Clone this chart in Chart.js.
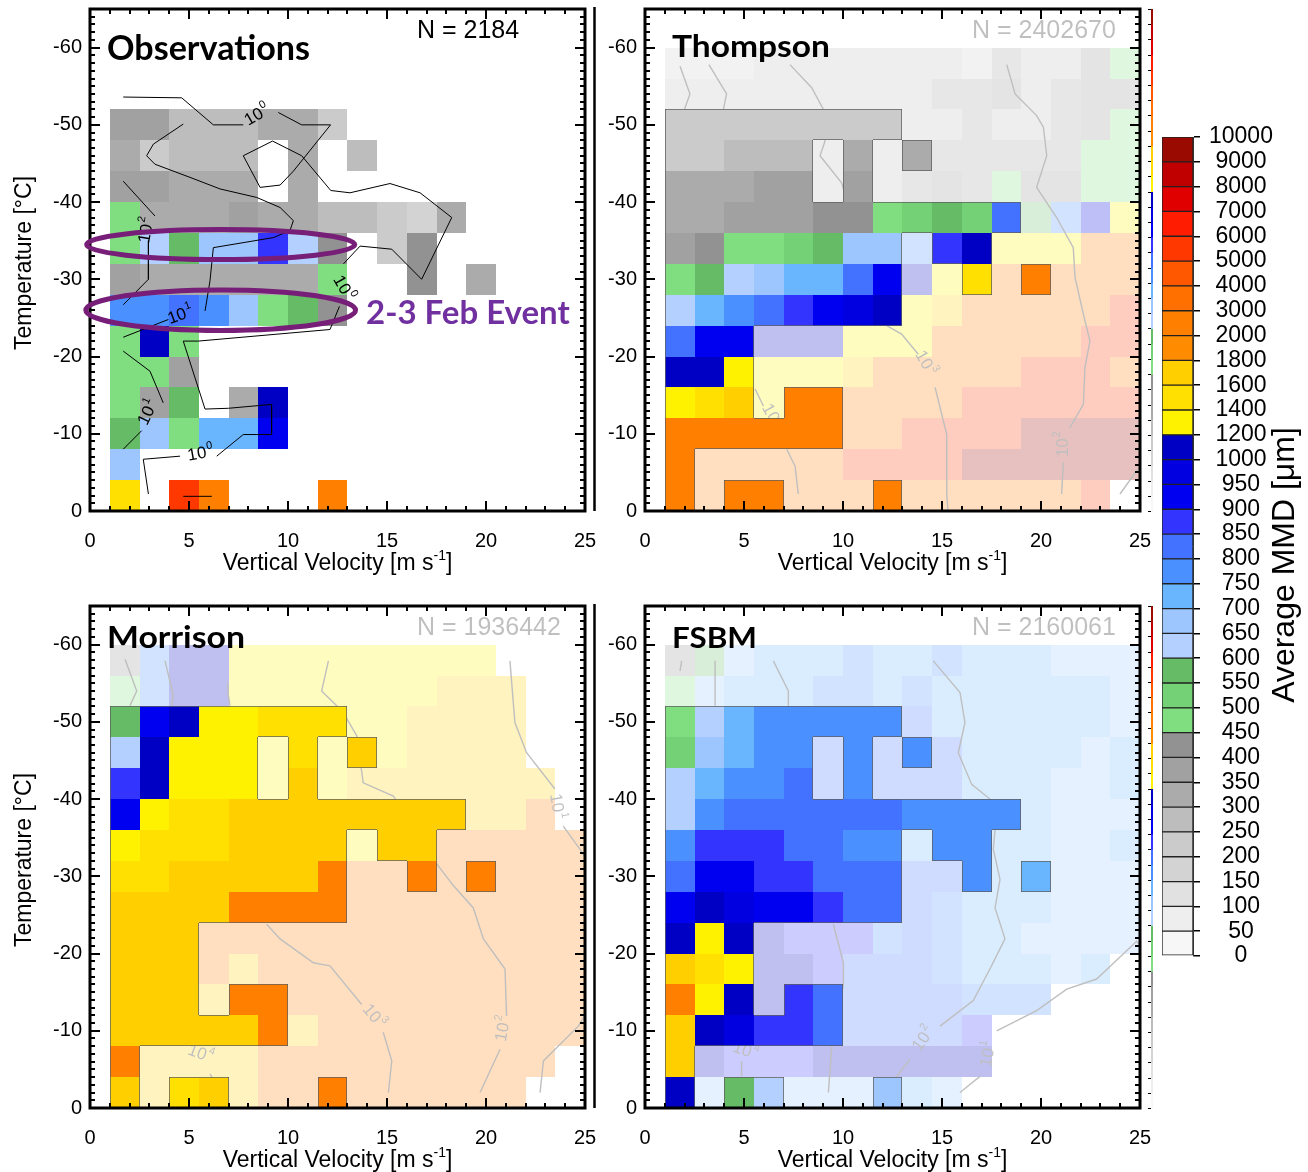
<!DOCTYPE html>
<html>
<head>
<meta charset="utf-8">
<title>Average MMD vs vertical velocity and temperature</title>
<script src="https://cdn.jsdelivr.net/npm/chart.js@4.4.0/dist/chart.umd.min.js"></script>
<style>
  html, body { margin: 0; padding: 0; background: #fff; }
  body { position: relative; width: 1308px; height: 1172px; overflow: hidden; }
  .panel { position: absolute; }
</style>
</head>
<body>
<canvas id="obs" class="panel" width="600" height="590" style="left:0;top:0"></canvas>
<canvas id="thompson" class="panel" width="600" height="590" style="left:555px;top:0"></canvas>
<canvas id="morrison" class="panel" width="600" height="590" style="left:0;top:597px"></canvas>
<canvas id="fsbm" class="panel" width="600" height="590" style="left:555px;top:597px"></canvas>
<canvas id="colorbar" class="panel" width="168" height="900" style="left:1140px;top:100px"></canvas>
<script>
const FONT = "'Liberation Sans', Arial, sans-serif";
const TITLE_FONT = "Lato, 'Open Sans', sans-serif";
Chart.defaults.font.family = FONT;

// ---- bins and axes ----
const velocityEdges = [1, 2.5, 4, 5.5, 7, 8.5, 10, 11.5, 13, 14.5, 16, 17.5, 19, 20.5, 22, 23.5, 25];
const temperatureEdges = [-60, -56, -52, -48, -44, -40, -36, -32, -28, -24, -20, -16, -12, -8, -4, 0];
const xTicks = [0, 5, 10, 15, 20, 25];
const yTicks = [-60, -50, -40, -30, -20, -10, 0];

// ---- MMD colour scale ----
const mmdLevels = [0, 50, 100, 150, 200, 250, 300, 350, 400, 450, 500, 550, 600, 650, 700, 750, 800,
  850, 900, 950, 1000, 1200, 1400, 1600, 1800, 2000, 3000, 4000, 5000, 6000, 7000, 8000, 9000, 10000];
const mmdColors = ['#f7f7f7', '#eeeeee', '#e1e1e1', '#d3d3d3', '#cbcbcb', '#bdbdbd', '#ababab', '#a1a1a1',
  '#929292', '#80dd80', '#75d175', '#66bb66', '#b4d0ff', '#9dc6ff', '#69b6ff', '#4a90ff', '#4272ff',
  '#3434ff', '#0000f0', '#0000e0', '#0000c4', '#fff200', '#ffe000', '#ffcf00', '#ff8c00', '#ff8000',
  '#ff7000', '#ff5800', '#ff3800', '#ff1c00', '#e00000', '#c00000', '#9a0a00'];
// one character per cell = MMD bin index, '.' = no data
const binCodes = '0123456789abcdefghijklmnopqrstuvw';

// ---- Observations ----
const obsMMD = [
  '................',
  '................',
  '77555664........',
  '64555.6.5.......',
  '77666.6.........',
  '966676655436....',
  '9cbddhc8.48.....',
  '76666669..8.6...',
  'ffgfd9b8........',
  '9k9.............',
  '997.............',
  '97b.6k..........',
  'bd9eei..........',
  'd...............',
  'm.sp...p........'
];
const obsContours = [
  [[1.68, -53.6], [4.63, -53.5], [6.23, -50.0], [7.74, -50.0]],
  [[9.51, -51.6], [10.69, -50.0], [12.15, -50.0], [10.27, -44.0], [9.6, -42.2], [8.59, -41.9], [7.74, -46.0],
   [9.22, -47.9], [10.69, -46.0], [12.16, -41.5], [13.13, -41.2], [15.15, -42.4], [16.67, -41.2], [18.27, -38.0],
   [16.75, -30.0], [15.24, -33.9], [13.64, -34.3], [12.8, -32.0]],
  [[12.6, -26.5], [12.12, -23.5], [5.47, -22.0], [4.71, -22.0], [5.81, -13.2], [6.99, -13.3], [9.17, -13.8],
   [9.17, -9.9], [7.74, -9.9], [6.4, -7.1]],
  [[4.55, -7.1], [2.69, -6.7], [2.95, -2.2]],
  [[1.68, -42.7], [3.28, -38.2]],
  [[2.95, -35.0], [2.95, -30.0], [1.68, -26.7]],
  [[4.71, -50.1], [3.2, -47.5], [2.86, -46.0], [3.28, -44.9], [5.05, -43.2], [6.57, -41.7], [8.42, -40.6],
   [9.6, -39.3], [10.27, -37.6], [10.1, -36.3], [9.26, -35.4], [6.23, -34.1], [6.06, -29.8], [5.81, -25.9]],
  [[3.96, -24.8], [1.68, -22.5]],
  [[1.68, -20.7], [3.03, -18.1], [3.7, -14.0]],
  [[2.61, -10.4], [1.68, -8.0]],
  [[4.71, -1.9], [6.15, -1.9]]
];
// [velocity, temperature, angle, exponent]
const obsContourLabels = [[8.42, -51.2, -30, '0'], [2.86, -36.3, -80, '2'], [4.55, -25.3, -20, '1'],
  [2.93, -12.7, -65, '1'], [5.56, -7.4, -10, '0'], [12.78, -28.9, 60, '0']];
// [centre velocity, centre temperature, half width, half height]
const febEllipses = [[6.6, -34.5, 6.77, 1.94], [6.6, -26.0, 6.81, 2.63]];

// ---- Thompson ----
const thompsonMMD = [
  '4445555555475589',
  '5555555557785788',
  '4444444455755789',
  '4455556567777799',
  '6667757578798899',
  '66777889abagbfjl',
  '7899abddfhklllpp',
  '9bcdeegiklmppppp',
  'cefghijklnppppps',
  'giikkklllpppppss',
  'kkllllnpppppsssp',
  'lmnlppppppssssss',
  'ppppppppsssswwww',
  'ppppppsssswwwwww',
  'pppppppppppppps.'
];
// '#' = well sampled, '+' = sparse
const thompsonSampled = [
  '++++++++++++++++',
  '++++++++++++++++',
  '########++++++++',
  '#####+#+#+++++++',
  '#####+#+++++++++',
  '############++++',
  '########+##+++++',
  '########++#+#+++',
  '########++++++++',
  '###+++++++++++++',
  '###+++++++++++++',
  '###+##++++++++++',
  '######++++++++++',
  '#+++++++++++++++',
  '#+##+++#+++++++.'
];
const thompsonContours = [
  [[1.77, -57.6], [2.27, -54.0], [1.99, -52.0]],
  [[3.23, -57.8], [4.12, -54.0], [3.96, -52.0]],
  [[7.32, -57.8], [8.42, -54.8], [9.01, -52.0], [9.09, -47.9], [8.84, -46.0], [9.93, -42.5], [11.0, -33.0],
   [12.2, -24.0], [12.96, -22.9], [13.8, -20.3]],
  [[14.65, -16.0], [15.24, -9.9], [15.24, -2.2], [15.3, 0]],
  [[18.27, -57.8], [18.69, -54.0], [19.78, -51.2], [20.12, -49.7], [20.29, -46.0], [19.78, -41.9], [20.79, -38.0],
   [21.63, -34.1], [21.72, -30.2], [22.14, -25.5], [22.47, -22.0], [22.22, -18.6], [22.14, -13.8], [21.46, -10.8]],
  [[21.13, -6.3], [21.04, -2.2]],
  [[5.56, -15.8], [5.98, -13.6]],
  [[7.16, -8.0], [7.58, -5.8], [7.74, -2.2]],
  [[23.99, -2.2], [24.83, -5.2], [25, -5.6]]
];
const thompsonContourLabels = [[14.14, -19.2, 60, '3'], [21.13, -8.6, -90, '2'], [6.4, -12.3, 60, '3']];

// ---- Morrison ----
const morrisonMMD = [
  '8fkklllllllll...',
  '9fkklllllllnnn..',
  'bikllmmmllnnnn..',
  'ckllllmlnlnnnn..',
  'hkllllnlnnnnnnn.',
  'ilmmnnnnnnnnnnp.',
  'lmmmnnnnlnnppppp',
  'mmnnnnnppppppppp',
  'nnnnpppppppppppp',
  'nnnppppppppppppp',
  'nnnpnppppppppppp',
  'nnnnpppppppppppp',
  'nnnnnpnppppppppp',
  'pnnnnpppppppppp.',
  'nnmnnppppppppp..'
];
const morrisonSampled = [
  '+++++++++++++...',
  '++++++++++++++..',
  '########++++++..',
  '#####+#+#+++++..',
  '#####+#++++++++.',
  '############+++.',
  '########+##+++++',
  '########++#+#+++',
  '########++++++++',
  '###+++++++++++++',
  '###+++++++++++++',
  '###+##++++++++++',
  '######++++++++++',
  '#++++++++++++++.',
  '#+##+++#++++++..'
];
const morrisonContours = [
  [[1.77, -58.1], [2.36, -54.0], [2.02, -52.1]],
  [[3.79, -57.9], [4.21, -53.4], [4.13, -52.1]],
  [[6.95, -55.0], [6.99, -53.4], [7.07, -52.1]],
  [[12.04, -57.9], [11.7, -54.0], [12.46, -52.1], [12.88, -50.8], [13.47, -48.2], [13.8, -42.1], [15.32, -40.4],
   [17.34, -32.2], [18.35, -28.8], [19.36, -25.9], [19.87, -21.9], [20.96, -18.0], [21.04, -11.9]],
  [[20.71, -7.6], [19.7, -2.0]],
  [[8.92, -23.8], [9.6, -21.9], [11.28, -18.8], [12.12, -18.4], [13.72, -13.4]],
  [[14.81, -9.8], [15.24, -6.1], [15.07, -2.0]],
  [[6.06, -4.4], [6.23, -3.7]],
  [[21.21, -57.9], [21.46, -49.9], [22.05, -46.0], [23.48, -41.3]],
  [[23.9, -36.5], [24.75, -33.5], [25, -32.5]],
  [[25, -12.0], [24.66, -10.6], [22.9, -6.1], [22.73, -2.0]]
];
const morrisonContourLabels = [[14.31, -11.9, 50, '3'], [20.88, -10.2, -80, '2'], [23.57, -39.1, 80, '1'],
  [5.56, -7.0, 20, '4']];

// ---- FSBM ----
const fsbmMMD = [
  '8bdeeefeefeeeddd',
  '9deeeffefeeeeeed',
  '9cefffffgeeeeeed',
  'adeffgfgfgeeeede',
  'ceffggfgggeeedde',
  'cfggggggffffeddd',
  'fhhhggffeffeedde',
  'giihhgggggfeeddd',
  'ikjiihgggfeeeddd',
  'klkkhhhfgfeedddd',
  'nmlkkhgggfeeede.',
  'plkkhgggggfff...',
  'nkjhhgggggh.....',
  'nkhhhkkkkkk.....',
  'kdbcdddded......'
];
const fsbmSampled = [
  '++++++++++++++++',
  '++++++++++++++++',
  '########++++++++',
  '#####+#+#+++++++',
  '#####+#+++++++++',
  '############++++',
  '########+##+++++',
  '########++#+#+++',
  '########++++++++',
  '###+++++++++++++',
  '###++++++++++++.',
  '###+##+++++++...',
  '######+++++.....',
  '#++++++++++.....',
  '#+##+++#++......'
];
const fsbmContours = [
  [[1.85, -57.9], [1.77, -56.6]],
  [[3.54, -57.9], [3.54, -52.1]],
  [[6.48, -57.9], [7.24, -54.0], [7.24, -52.1]],
  [[9.51, -23.8], [10.02, -18.8], [10.02, -16.0], [9.43, -7.8], [9.26, -2.0]],
  [[4.88, -6.1], [4.88, -4.1]],
  [[14.56, -57.9], [15.91, -53.8], [16.16, -49.9], [15.82, -46.0], [16.5, -41.9], [17.42, -40.0], [17.68, -36.1],
   [17.59, -33.5], [17.93, -29.6], [17.68, -25.9], [18.18, -21.9], [17.42, -18.0], [16.58, -13.9], [14.9, -10.6]],
  [[13.38, -6.3], [12.71, -4.1], [12.5, -3.4]],
  [[25, -21.0], [24.83, -21.6], [22.81, -16.7], [21.3, -15.4], [19.78, -12.6], [17.76, -10.0]],
  [[16.92, -4.1], [15.91, -2.0]]
];
const fsbmContourLabels = [[14.06, -8.9, -55, '2'], [17.34, -6.9, -80, '1'], [5.05, -7.4, 20, '4']];

// ---------------------------------------------------------------
function mmdOfCode(code) {
  const i = binCodes.indexOf(code);
  return (mmdLevels[i] + mmdLevels[i + 1]) / 2;
}
function colorOf(mmd) {
  let i = 0;
  while (i < mmdColors.length - 1 && mmd >= mmdLevels[i + 1]) i++;
  return mmdColors[i];
}
function cellRect(chart, r, c) {
  const xs = chart.scales.x, ys = chart.scales.y;
  const x0 = Math.round(xs.getPixelForValue(velocityEdges[c]));
  const x1 = Math.round(xs.getPixelForValue(velocityEdges[c + 1]));
  const y0 = Math.round(ys.getPixelForValue(temperatureEdges[r]));
  const y1 = Math.round(ys.getPixelForValue(temperatureEdges[r + 1]));
  return [x0, Math.min(y0, y1), x1 - x0, Math.abs(y1 - y0)];
}
function fillCells(chart, grid, mask) {
  const ctx = chart.ctx;
  grid.forEach((row, r) => {
    for (let c = 0; c < row.length; c++) {
      if (row[c] === '.') continue;
      if (mask && mask[r][c] !== '#') continue;
      const [x, y, w, h] = cellRect(chart, r, c);
      ctx.fillStyle = colorOf(mmdOfCode(row[c]));
      ctx.fillRect(x, y, w, h);
    }
  });
}
function solid(mask, r, c) {
  return r >= 0 && r < mask.length && c >= 0 && c < mask[r].length && mask[r][c] === '#';
}
function outlineSolid(chart, mask) {
  const ctx = chart.ctx;
  ctx.strokeStyle = 'rgba(95,95,95,0.75)';
  ctx.lineWidth = 1;
  ctx.beginPath();
  mask.forEach((row, r) => {
    for (let c = 0; c < row.length; c++) {
      if (row[c] !== '#') continue;
      const [x, y, w, h] = cellRect(chart, r, c);
      if (!solid(mask, r - 1, c)) { ctx.moveTo(x, y + 0.5); ctx.lineTo(x + w, y + 0.5); }
      if (!solid(mask, r + 1, c)) { ctx.moveTo(x, y + h - 0.5); ctx.lineTo(x + w, y + h - 0.5); }
      if (!solid(mask, r, c - 1)) { ctx.moveTo(x + 0.5, y); ctx.lineTo(x + 0.5, y + h); }
      if (!solid(mask, r, c + 1)) { ctx.moveTo(x + w - 0.5, y); ctx.lineTo(x + w - 0.5, y + h); }
    }
  });
  ctx.stroke();
}
function powerLabel(ctx, x, y, angle, exp, size) {
  ctx.save();
  ctx.translate(x, y);
  ctx.rotate(angle * Math.PI / 180);
  ctx.fillStyle = '#000';
  ctx.textBaseline = 'middle';
  ctx.textAlign = 'left';
  ctx.font = size + 'px ' + FONT;
  const w1 = ctx.measureText('10').width;
  ctx.font = Math.round(size * 0.65) + 'px ' + FONT;
  const w2 = ctx.measureText(exp).width;
  const x0 = -(w1 + w2) / 2;
  ctx.font = size + 'px ' + FONT;
  ctx.fillText('10', x0, 0);
  ctx.font = Math.round(size * 0.65) + 'px ' + FONT;
  ctx.fillText(exp, x0 + w1 + 1, -size * 0.38);
  ctx.restore();
}
function line(ctx, x0, y0, x1, y1) {
  ctx.moveTo(x0, y0); ctx.lineTo(x1, y1);
}
// keep the plot box exactly where the layout padding puts it
function noScalePadding(s) {
  s.paddingTop = 0; s.paddingBottom = 0; s.paddingLeft = 0; s.paddingRight = 0;
}

function heatmapPlugin(p) {
  return {
    id: 'heatmap',
    beforeDatasetsDraw(chart) {
      const ctx = chart.ctx, a = chart.chartArea;
      ctx.save();
      ctx.beginPath();
      ctx.rect(a.left, a.top, a.right - a.left, a.bottom - a.top);
      ctx.clip();
      fillCells(chart, p.grid, null);
      ctx.restore();
    },
    afterDatasetsDraw(chart) {
      const ctx = chart.ctx, a = chart.chartArea;
      const xs = chart.scales.x, ys = chart.scales.y;
      p.labels.forEach(l => powerLabel(ctx, xs.getPixelForValue(l[0]), ys.getPixelForValue(l[1]), l[2], l[3], 17));
      ctx.save();
      ctx.fillStyle = '#000';
      ctx.font = '25px ' + FONT;
      ctx.textAlign = 'left';
      ctx.textBaseline = 'alphabetic';
      ctx.fillText('N = ' + p.count, a.left + 327, a.top + 29);
      ctx.restore();
      if (p.mask) {
        ctx.save();
        ctx.fillStyle = 'rgba(255,255,255,0.75)';
        ctx.fillRect(a.left, a.top, a.right - a.left, a.bottom - a.top);
        fillCells(chart, p.grid, p.mask);
        outlineSolid(chart, p.mask);
        ctx.restore();
      }
      // panel title
      ctx.save();
      ctx.font = 'bold ' + p.title.size + 'px ' + TITLE_FONT;
      const m = ctx.measureText(p.title.text).width;
      ctx.translate(a.left + p.title.dx, a.top + p.title.dy);
      ctx.scale(p.title.width / m, 1);
      ctx.fillStyle = '#000';
      ctx.textBaseline = 'alphabetic';
      ctx.fillText(p.title.text, 0, 0);
      ctx.restore();
    },
    afterDraw(chart) {
      const ctx = chart.ctx, a = chart.chartArea;
      const xs = chart.scales.x, ys = chart.scales.y;
      ctx.save();
      // frame + tick marks on all four sides
      ctx.strokeStyle = '#000';
      ctx.lineWidth = 3;
      ctx.strokeRect(a.left, a.top, a.right - a.left, a.bottom - a.top);
      ctx.lineWidth = 2;
      ctx.beginPath();
      for (let v = 0; v <= 25; v++) {
        const px = Math.round(xs.getPixelForValue(v));
        const len = v % 5 === 0 ? 10 : 5;
        line(ctx, px, a.bottom, px, a.bottom - len);
        line(ctx, px, a.top, px, a.top + len);
      }
      for (let v = -65; v <= 0; v++) {
        const py = Math.round(ys.getPixelForValue(v));
        const len = v % 10 === 0 ? 10 : 5;
        line(ctx, a.left, py, a.left + len, py);
        line(ctx, a.right, py, a.right - len, py);
      }
      ctx.stroke();

      // x axis title with superscript
      ctx.fillStyle = '#000';
      ctx.textBaseline = 'middle';
      ctx.textAlign = 'left';
      ctx.font = '23px ' + FONT;
      const t1 = 'Vertical Velocity [m s', t3 = ']';
      const w1 = ctx.measureText(t1).width, w3 = ctx.measureText(t3).width;
      ctx.font = '14px ' + FONT;
      const w2 = ctx.measureText('-1').width;
      let tx = (a.left + a.right) / 2 - (w1 + w2 + w3) / 2;
      const ty = a.bottom + 53;
      ctx.font = '23px ' + FONT;
      ctx.fillText(t1, tx, ty);
      ctx.font = '14px ' + FONT;
      ctx.fillText('-1', tx + w1, ty - 8);
      ctx.font = '23px ' + FONT;
      ctx.fillText(t3, tx + w1 + w2, ty);

      if (p.yTitle) {
        ctx.save();
        ctx.translate(a.left - 65, (a.top + a.bottom) / 2 + 3);
        ctx.rotate(-Math.PI / 2);
        ctx.textAlign = 'center';
        ctx.fillText('Temperature [°C]', 0, 0);
        ctx.restore();
      }
      if (p.separator) {
        ctx.lineWidth = 2.5;
        ctx.beginPath();
        line(ctx, a.right + 9.5, a.top - 2, a.right + 9.5, a.bottom);
        ctx.stroke();
      }
      if (p.strip) {
        const n = mmdColors.length, h = (a.bottom - a.top) / n;
        mmdColors.forEach((col, i) => {
          ctx.fillStyle = col;
          ctx.fillRect(a.right + 11, a.bottom - (i + 1) * h, 2, h + 0.5);
        });
        ctx.lineWidth = 1;
        ctx.beginPath();
        for (let i = 0; i <= n; i++) {
          const y = Math.round(a.bottom - i * h) + 0.5;
          line(ctx, a.right + 8, y, a.right + 11, y);
        }
        ctx.stroke();
      }
      if (p.event) {
        ctx.strokeStyle = '#771e78';
        ctx.lineWidth = 5;
        febEllipses.forEach(e => {
          const cx = xs.getPixelForValue(e[0]), cy = ys.getPixelForValue(e[1]);
          const rx = Math.abs(xs.getPixelForValue(e[0] + e[2]) - cx);
          const ry = Math.abs(ys.getPixelForValue(e[1] + e[3]) - cy);
          ctx.beginPath();
          ctx.ellipse(cx, cy, rx, ry, 0, 0, Math.PI * 2);
          ctx.stroke();
        });
        ctx.fillStyle = '#7030a0';
        ctx.font = 'bold 33px ' + TITLE_FONT;
        ctx.textBaseline = 'alphabetic';
        ctx.fillText('2-3 Feb Event', xs.getPixelForValue(13.94), ys.getPixelForValue(-24.2));
      }
      ctx.restore();
    }
  };
}

function buildPanel(id, p) {
  const datasets = p.contours.map(pts => ({
    data: pts.map(q => ({ x: q[0], y: q[1] })),
    showLine: true,
    borderColor: '#000',
    borderWidth: p.mask ? 1.4 : 1,
    pointRadius: 0,
    tension: 0,
    fill: false
  }));
  return new Chart(document.getElementById(id), {
    type: 'scatter',
    data: { datasets },
    options: {
      responsive: false,
      animation: false,
      devicePixelRatio: 1,
      events: [],
      layout: { padding: { top: 9, right: 15, left: 0, bottom: 0 } },
      plugins: { legend: { display: false }, tooltip: { enabled: false } },
      scales: {
        x: {
          type: 'linear', min: 0, max: 25,
          grid: { display: false, drawTicks: false },
          border: { display: false },
          ticks: { color: '#000', font: { size: 20 }, padding: 18, maxRotation: 0 },
          afterBuildTicks: s => { s.ticks = xTicks.map(v => ({ value: v })); },
          afterFit: s => { s.height = 79; noScalePadding(s); }
        },
        y: {
          type: 'linear', min: -65, max: 0, reverse: true,
          grid: { display: false, drawTicks: false },
          border: { display: false },
          ticks: { color: '#000', font: { size: 20 }, padding: 8 },
          afterBuildTicks: s => { s.ticks = yTicks.map(v => ({ value: v })); },
          afterFit: s => { s.width = 90; noScalePadding(s); }
        }
      }
    },
    plugins: [heatmapPlugin(p)]
  });
}

buildPanel('obs', {
  grid: obsMMD, mask: null, contours: obsContours, labels: obsContourLabels, count: 2184,
  title: { text: 'Observations', size: 35, dx: 17, dy: 51, width: 203 },
  yTitle: true, separator: true, event: true
});
buildPanel('thompson', {
  grid: thompsonMMD, mask: thompsonSampled, contours: thompsonContours, labels: thompsonContourLabels, count: 2402670,
  title: { text: 'Thompson', size: 31, dx: 27, dy: 48, width: 158 },
  strip: true
});
buildPanel('morrison', {
  grid: morrisonMMD, mask: morrisonSampled, contours: morrisonContours, labels: morrisonContourLabels, count: 1936442,
  title: { text: 'Morrison', size: 31, dx: 17, dy: 42, width: 138 },
  yTitle: true, separator: true
});
buildPanel('fsbm', {
  grid: fsbmMMD, mask: fsbmSampled, contours: fsbmContours, labels: fsbmContourLabels, count: 2160061,
  title: { text: 'FSBM', size: 29, dx: 27, dy: 42, width: 85 },
  strip: true
});

// ---- colour bar ----
new Chart(document.getElementById('colorbar'), {
  type: 'bar',
  data: {
    labels: ['MMD'],
    datasets: mmdColors.map(col => ({
      data: [1], backgroundColor: col, borderColor: '#222', borderWidth: 1, borderSkipped: false,
      barPercentage: 1, categoryPercentage: 1
    }))
  },
  options: {
    responsive: false,
    animation: false,
    devicePixelRatio: 1,
    events: [],
    layout: { padding: { left: 22, top: 37, bottom: 44, right: 33 } },
    plugins: { legend: { display: false }, tooltip: { enabled: false } },
    scales: {
      x: { display: false, stacked: true },
      y: {
        type: 'linear', position: 'right', stacked: true, min: 0, max: 33,
        afterBuildTicks: s => { s.ticks = mmdLevels.map((_, i) => ({ value: i })); },
        ticks: { color: '#000', font: { size: 23 }, padding: 9, autoSkip: false, crossAlign: 'center',
                 callback: v => String(mmdLevels[v]) },
        grid: { drawOnChartArea: false, drawTicks: true, tickLength: 7, color: '#000', lineWidth: 1.5 },
        border: { display: true, color: '#333', width: 1 },
        afterFit: s => { s.width = 82; noScalePadding(s); }
      }
    }
  },
  plugins: [{
    id: 'cbTitle',
    afterDraw(chart) {
      const ctx = chart.ctx;
      ctx.save();
      ctx.translate(145, 465);
      ctx.rotate(-Math.PI / 2);
      ctx.fillStyle = '#000';
      ctx.font = '32px ' + FONT;
      ctx.textAlign = 'center';
      ctx.textBaseline = 'middle';
      ctx.fillText('Average MMD [\u03bcm]', 0, 0);
      ctx.restore();
    }
  }]
});
</script>
</body>
</html>
